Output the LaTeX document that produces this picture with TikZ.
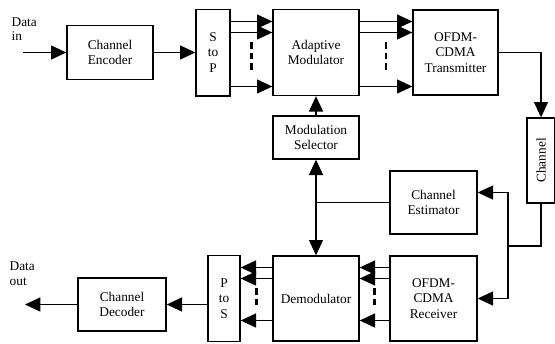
\documentclass[tikz,border=0pt]{standalone}
\usepackage{fontspec}
\setmainfont{Liberation Serif}
\usetikzlibrary{arrows.meta,positioning,calc}

\begin{document}
\begin{tikzpicture}[x=0.75pt,y=-0.75pt,line width=1pt,>={Triangle[length=11.5pt,width=10.5pt]}]
	\tikzstyle{block}=[draw, align=center, inner sep=1pt, font=\fontsize{10}{11.5}\selectfont]
	\tikzstyle{lbl}=[align=left, inner sep=0pt, font=\fontsize{10}{11}\selectfont]
	\tikzstyle{dots}=[dash pattern=on 5pt off 3pt, line width=1.6pt]
	\useasboundingbox (0,0) rectangle (555,343);
	% transmit side
	\node[block, minimum width=64.5pt, minimum height=40.5pt](enc) at (110,52.5){Channel\\Encoder};
	\node[block, minimum width=25.5pt, minimum height=65pt](sp) at (213,52.5){S\\to\\P};
	\node[block, minimum width=64.5pt, minimum height=64.5pt](am) at (316,52.5){Adaptive\\Modulator};
	\node[block, minimum width=63.75pt, minimum height=63.75pt](tx) at (455.5,52.5){OFDM-\\CDMA\\Transmitter};
	\node[block, minimum width=21pt, minimum height=63.75pt](ch) at (541,160.5){\rotatebox{90}{Channel}};
	\node[block, minimum width=64.5pt, minimum height=32.25pt](ms) at (316,137.5){Modulation\\Selector};
	% receive side
	\node[block, minimum width=65.25pt, minimum height=47.25pt](est) at (433.5,202.5){Channel\\Estimator};
	\node[block, minimum width=64.5pt, minimum height=63.75pt](dem) at (316,298.5){Demodulator};
	\node[block, minimum width=65.25pt, minimum height=63.75pt](rx) at (433.5,298.5){OFDM-\\CDMA\\Receiver};
	\node[block, minimum width=24pt, minimum height=64.5pt](ps) at (224,298.5){P\\to\\S};
	\node[block, minimum width=66pt, minimum height=39.75pt](dec) at (122,304.5){Channel\\Decoder};
	\node[lbl, anchor=west](din) at (11,29){Data\\in};
	\node[lbl, anchor=west](dout) at (9,274){Data\\out};
	\coordinate (src) at (23,52.5);
	\coordinate (snk) at (25,304.5);
	\coordinate (jn) at (508,246);

	\draw[->] (src) -- (enc);
	\draw[->] (enc) -- (sp);
	\foreach \dy in {-31,-20,34}
		\draw[->] ($(sp.east)+(0,\dy)$) -- ($(am.west)+(0,\dy)$);
	\foreach \dy in {-31,-20,34}
		\draw[->] ($(am.east)+(0,\dy)$) -- ($(tx.west)+(0,\dy)$);
	\draw[dots] ($(sp.east)!0.5!(am.west)+(0,-10.5)$) -- ++(0,30);
	\draw[dots] ($(am.east)!0.5!(tx.west)+(0,-10.5)$) -- ++(0,30);
	\draw[->] (tx.east) -| (ch.north);
	\draw[->] (ms) -- (am);
	\draw[<->] (ms) -- (dem);
	\draw (est.west) -- (est.west -| ms.south);
	\draw (ch.south) |- (jn);
	\draw[->] (jn) |- ($(est.east)+(0,-10)$);
	\draw[->] (jn) |- (rx.east);
	\foreach \dy in {-31,-20,22}
		\draw[->] ($(rx.west)+(0,\dy)$) -- ($(dem.east)+(0,\dy)$);
	\foreach \dy in {-31,-20,22}
		\draw[->] ($(dem.west)+(0,\dy)$) -- ($(ps.east)+(0,\dy)$);
	\draw[dots] ($(rx.west)!0.5!(dem.east)+(0,-10.5)$) -- ++(0,19);
	\draw[dots] ($(dem.west)!0.5!(ps.east)+(0,-10.5)$) -- ++(0,19);
	\draw[->] (ps.west |- dec.east) -- (dec.east);
	\draw[->] (dec) -- (snk);
\end{tikzpicture}
\end{document}
